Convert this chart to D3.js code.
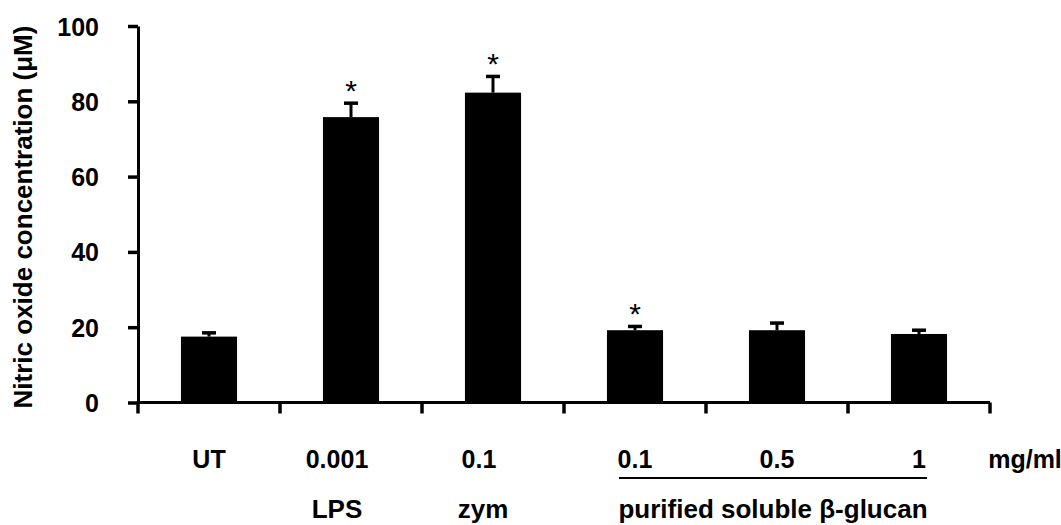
<!DOCTYPE html>
<html>
<head>
<meta charset="utf-8">
<script src="https://cdn.jsdelivr.net/npm/d3@7"></script>
<style>
  body { margin: 0; background: #fff; }
  text { font-family: "Liberation Sans", Arial, sans-serif; font-weight: bold; fill: #000; }
</style>
</head>
<body>
<div id="chart"></div>
<script>
// values
const categories = ["UT", "LPS", "zym", "glucan 0.1", "glucan 0.5", "glucan 1"];
const doseLabels = ["UT", "0.001", "0.1", "0.1", "0.5", "1"];
const means = [17.5, 75.8, 82.3, 19.2, 19.2, 18.2];
const errors = [1.0, 3.7, 4.3, 1.0, 1.9, 1.0];
const starred = [false, true, true, true, false, false];
const yTicks = [0, 20, 40, 60, 80, 100];

const width = 1061, height = 525;

const svg = d3.select("#chart").append("svg")
    .attr("width", width)
    .attr("height", height);

const x = d3.scaleBand()
    .domain(categories)
    .range([138, 990])
    .padding(0);

const y = d3.scaleLinear()
    .domain([0, 100])
    .range([402.5, 26]);

const barW = x.bandwidth() * 0.395;
const labelShift = [0, -14, -14, 0, 0, 0];

// bars
svg.selectAll("rect.bar")
    .data(means)
    .join("rect")
    .attr("class", "bar")
    .attr("x", (d, i) => x(categories[i]) + x.bandwidth() / 2 - barW / 2)
    .attr("y", d => y(d))
    .attr("width", barW)
    .attr("height", d => y(0) - y(d))
    .attr("fill", "#000");

// error bars
const err = svg.selectAll("g.err")
    .data(means)
    .join("g")
    .attr("class", "err")
    .attr("transform", (d, i) => "translate(" + (x(categories[i]) + x.bandwidth() / 2) + ",0)");

err.append("line")
    .attr("x1", 0).attr("x2", 0)
    .attr("y1", d => y(d))
    .attr("y2", (d, i) => y(d + errors[i]))
    .attr("stroke", "#000")
    .attr("stroke-width", 3);

err.append("line")
    .attr("x1", -7).attr("x2", 7)
    .attr("y1", (d, i) => y(d + errors[i]))
    .attr("y2", (d, i) => y(d + errors[i]))
    .attr("stroke", "#000")
    .attr("stroke-width", 3.5);

// significance stars
svg.selectAll("text.star")
    .data(means.map((d, i) => ({ v: d + errors[i], i })).filter(d => starred[d.i]))
    .join("text")
    .attr("class", "star")
    .attr("x", d => x(categories[d.i]) + x.bandwidth() / 2)
    .attr("y", d => y(d.v) - 2)
    .attr("text-anchor", "middle")
    .style("font-size", "30px")
    .style("font-weight", "normal")
    .text("*");

// y axis
const yAxis = svg.append("g")
    .attr("transform", "translate(138,0)")
    .call(d3.axisLeft(y).tickValues(yTicks).tickSize(10).tickPadding(29).tickSizeOuter(0));
yAxis.select(".domain").attr("stroke-width", 3);
yAxis.selectAll(".tick line").attr("stroke-width", 3.5);
yAxis.selectAll(".tick text")
    .style("font-size", "25px")
    .style("font-family", "'Liberation Sans', Arial, sans-serif")
    .style("font-weight", "bold")
    .attr("dy", "0.36em");

// x axis line + boundary ticks
svg.append("line")
    .attr("x1", 136.5).attr("x2", 990)
    .attr("y1", y(0)).attr("y2", y(0))
    .attr("stroke", "#000")
    .attr("stroke-width", 3);

const bounds = categories.map(c => x(c)).concat([x.range()[1]]);
svg.selectAll("line.xtick")
    .data(bounds)
    .join("line")
    .attr("class", "xtick")
    .attr("x1", d => d).attr("x2", d => d)
    .attr("y1", y(0)).attr("y2", y(0) + 11)
    .attr("stroke", "#000")
    .attr("stroke-width", 3.5);

// dose labels
svg.selectAll("text.dose")
    .data(doseLabels)
    .join("text")
    .attr("class", "dose")
    .attr("x", (d, i) => x(categories[i]) + x.bandwidth() / 2 + labelShift[i])
    .attr("y", 468)
    .attr("text-anchor", "middle")
    .style("font-size", "25px")
    .text(d => d);

svg.append("text")
    .attr("x", 1025).attr("y", 468)
    .attr("text-anchor", "middle")
    .style("font-size", "25px")
    .text("mg/ml");

// agent labels
const agentY = 518;
svg.append("text")
    .attr("x", x("LPS") + x.bandwidth() / 2 - 14).attr("y", agentY)
    .attr("text-anchor", "middle")
    .style("font-size", "26px")
    .text("LPS");
svg.append("text")
    .attr("x", x("zym") + x.bandwidth() / 2 - 10).attr("y", agentY)
    .attr("text-anchor", "middle")
    .style("font-size", "26px")
    .text("zym");

const g1 = x("glucan 0.1") + x.bandwidth() / 2 - 16;
const g2 = x("glucan 1") + x.bandwidth() / 2 + 8;
svg.append("line")
    .attr("x1", g1).attr("x2", g2)
    .attr("y1", 478).attr("y2", 478)
    .attr("stroke", "#000")
    .attr("stroke-width", 2);
svg.append("text")
    .attr("x", (g1 + g2) / 2).attr("y", agentY)
    .attr("text-anchor", "middle")
    .style("font-size", "26px")
    .text("purified soluble β-glucan");

// y title
svg.append("text")
    .attr("transform", "translate(32,217) rotate(-90)")
    .attr("text-anchor", "middle")
    .style("font-size", "26px")
    .text("Nitric oxide concentration (μM)");
</script>
</body>
</html>
